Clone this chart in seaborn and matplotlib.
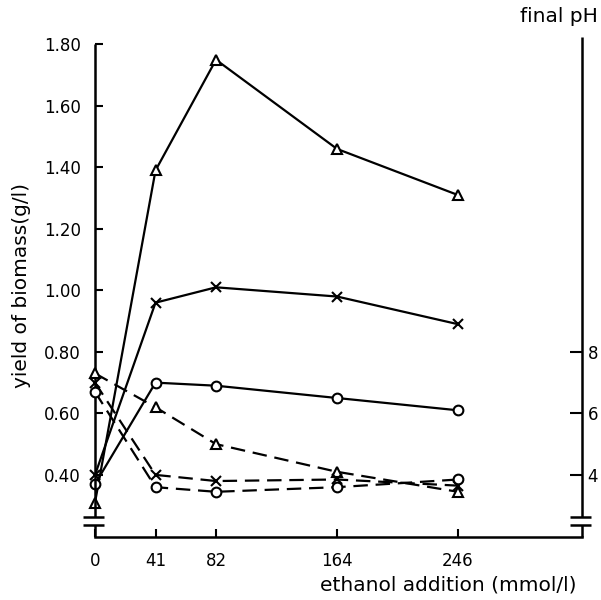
import matplotlib
matplotlib.use("Agg")
import matplotlib.pyplot as plt
import seaborn as sns
import pandas as pd
import numpy as np

# ethanol added (mmol/l)
ethanol = [0, 41, 82, 164, 246]
series = ["triangle", "cross", "circle"]

# yield of biomass (g/l), solid lines
biomass_tri = [0.31, 1.39, 1.75, 1.46, 1.31]
biomass_x = [0.40, 0.96, 1.01, 0.98, 0.89]
biomass_o = [0.37, 0.70, 0.69, 0.65, 0.61]

# final pH, dashed lines
ph_tri = [7.3, 6.2, 5.0, 4.1, 3.45]
ph_x = [7.0, 4.0, 3.8, 3.85, 3.65]
ph_o = [6.7, 3.6, 3.45, 3.6, 3.85]

xticks = [0, 41, 82, 164, 246]
yticks = [0.40, 0.60, 0.80, 1.00, 1.20, 1.40, 1.60, 1.80]
phticks = [4, 6, 8]

bio = pd.DataFrame({
    "ethanol": ethanol * 3,
    "value": biomass_tri + biomass_x + biomass_o,
    "series": np.repeat(series, len(ethanol)),
})
ph = pd.DataFrame({
    "ethanol": ethanol * 3,
    "value": ph_tri + ph_x + ph_o,
    "series": np.repeat(series, len(ethanol)),
})

sns.set_style("white")
plt.rcParams["font.family"] = ["DejaVu Sans"]
plt.rcParams["text.color"] = "black"

fig = plt.figure(figsize=(6.01, 6.0), dpi=100)
ax = fig.add_axes([95 / 601, 63 / 600, 487 / 601, 500 / 600])
ax2 = ax.twinx()

mk = {"triangle": "^", "cross": "x", "circle": "o"}
ms = {"triangle": 7, "cross": 7, "circle": 7}

for s in series:
    common = dict(x="ethanol", y="value", color="black", legend=False,
                  linewidth=1.6, marker=mk[s], markersize=ms[s],
                  markerfacecolor="white", markeredgecolor="black",
                  markeredgewidth=1.5, clip_on=False)
    sns.lineplot(data=bio[bio.series == s], ax=ax, **common)
    sns.lineplot(data=ph[ph.series == s], ax=ax2, dashes=(6.5, 3.5), **common)

ylo, yhi = 0.198, 1.824
ax.set_xlim(0, 330)
ax.set_ylim(ylo, yhi)
ax2.set_ylim(ylo * 10, yhi * 10)

for a in (ax, ax2):
    for sp in a.spines.values():
        sp.set_visible(False)
    a.set_xlabel("")
    a.set_ylabel("")

ax.spines["bottom"].set_visible(True)
ax.spines["bottom"].set_linewidth(1.8)
ax.spines["bottom"].set_color("black")

# vertical axes with a break near the bottom
kw = dict(color="black", lw=1.8, clip_on=False, solid_capstyle="butt")
for xv, top in ((0, 1.80), (330, yhi)):
    ax.plot([xv, xv], [0.262, top], **kw)
    ax.plot([xv, xv], [ylo, 0.238], **kw)
    ax.plot([xv - 8, xv + 6], [0.262, 0.262], **kw)
    ax.plot([xv - 8, xv + 6], [0.238, 0.238], **kw)

ax.set_xticks(xticks)
ax.set_xticklabels([str(v) for v in xticks])
ax.set_yticks(yticks)
ax.set_yticklabels([f"{v:.2f}" for v in yticks])
ax.tick_params(axis="both", direction="in", length=6, width=1.5,
               labelsize=12, colors="black")
ax.tick_params(axis="x", pad=11, bottom=True)
ax.tick_params(axis="y", pad=10, left=True)

ax2.set_yticks(phticks)
ax2.set_yticklabels([str(v) for v in phticks])
ax2.tick_params(axis="y", direction="in", length=9, width=1.5, pad=4,
                labelsize=12, right=True, colors="black")

fig.text(22 / 601, 1 - 286 / 600, "yield of biomass(g/l)", rotation=90,
         ha="center", va="center", fontsize=14.5, color="black")
fig.text(576 / 601, 1 - 585 / 600, "ethanol addition (mmol/l)",
         ha="right", va="center", fontsize=14.5, color="black")
fig.text(598 / 601, 1 - 16 / 600, "final pH", ha="right", va="center",
         fontsize=14.5, color="black")

fig.savefig("out.png", dpi=100)
